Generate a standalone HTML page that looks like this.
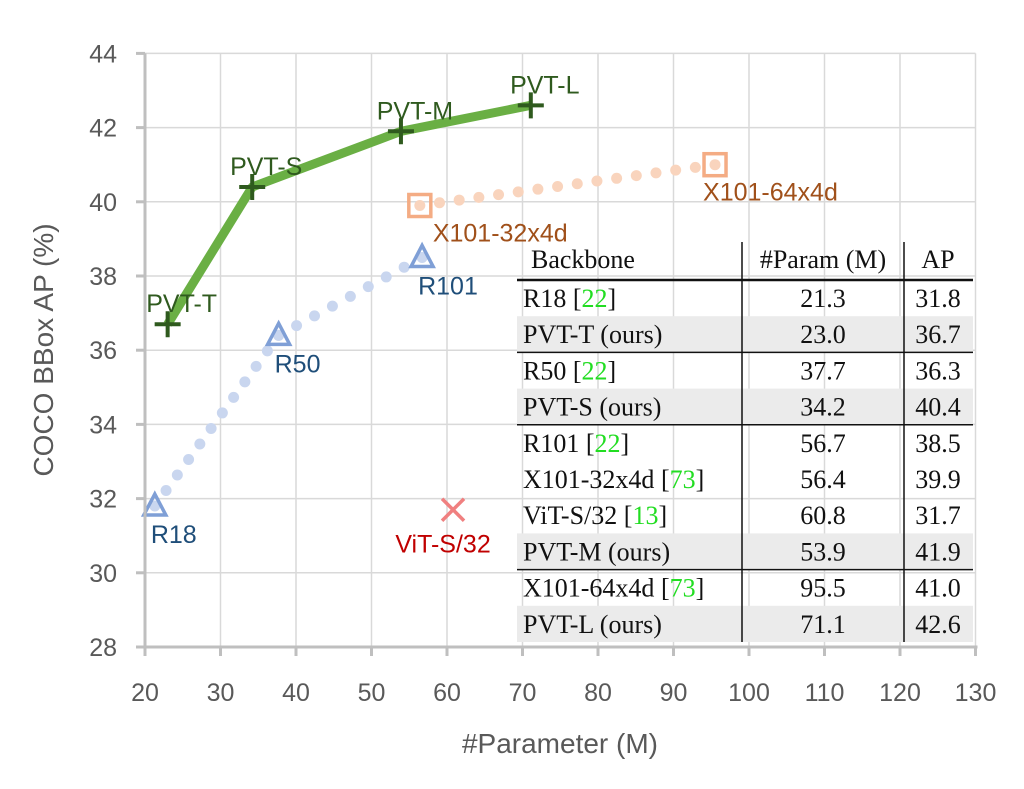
<!DOCTYPE html>
<html><head><meta charset="utf-8"><style>
body{margin:0;background:#fff;width:1024px;height:784px;overflow:hidden}
svg text{font-family:"Liberation Sans","DejaVu Sans",sans-serif}
.tb{font-family:"Liberation Serif",serif;font-size:26px;fill:#111}
</style></head><body>
<svg id="c" width="1024" height="784" xmlns="http://www.w3.org/2000/svg">
<g id="grid"></g><g id="table"></g><g id="series"></g><g id="axes"></g>
</svg>
<script>
const xTicks=[20,30,40,50,60,70,80,90,100,110,120,130];
const yTicks=[28,30,32,34,36,38,40,42,44];
const pvtNames=["PVT-T","PVT-S","PVT-M","PVT-L"];
const pvtX=[23.0,34.2,53.9,71.1];
const pvtY=[36.7,40.4,41.9,42.6];
const resNames=["R18","R50","R101"];
const resX=[21.3,37.7,56.7];
const resY=[31.8,36.4,38.5];
const xNames=["X101-32x4d","X101-64x4d"];
const xX=[56.4,95.5];
const xY=[39.9,41.0];
const vitX=[60.8];
const vitY=[31.7];
const tblBackbone=["R18 ","PVT-T (ours)","R50 ","PVT-S (ours)","R101 ","X101-32x4d ","ViT-S/32 ","PVT-M (ours)","X101-64x4d ","PVT-L (ours)"];
const tblRef=["22","","22","","22","73","13","","73",""];
const tblParam=["21.3","23.0","37.7","34.2","56.7","56.4","60.8","53.9","95.5","71.1"];
const tblAP=["31.8","36.7","36.3","40.4","38.5","39.9","31.7","41.9","41.0","42.6"];
const shaded=[0,1,0,1,0,0,0,1,0,1];

const NS="http://www.w3.org/2000/svg";
const X=v=>145+(v-20)*7.55, Y=v=>647-(v-28)*37.1;
function mk(t,a,p){const e=document.createElementNS(NS,t);for(const k in a)e.setAttribute(k,a[k]);p.appendChild(e);return e;}
const G=document.getElementById('grid'),A=document.getElementById('axes'),S=document.getElementById('series'),T=document.getElementById('table');
xTicks.forEach(v=>{if(v>20){const l=mk('line',{x1:X(v),x2:X(v),y1:Y(44),y2:Y(28),stroke:'#d9d9d9','stroke-width':1.5},G);}
 mk('line',{x1:X(v),x2:X(v),y1:647,y2:656,stroke:'#bfbfbf','stroke-width':3},A);
 const t=mk('text',{x:X(v),y:701,'text-anchor':'middle','font-size':25,fill:'#595959'},A);t.textContent=v;
 });
yTicks.forEach(v=>{if(v>28){const l=mk('line',{x1:145,x2:X(130),y1:Y(v),y2:Y(v),stroke:'#d9d9d9','stroke-width':1.5},G);}
 mk('line',{x1:136,x2:145,y1:Y(v),y2:Y(v),stroke:'#bfbfbf','stroke-width':3},A);
 const t=mk('text',{x:117,y:Y(v)+9,'text-anchor':'end','font-size':25,fill:'#595959'},A);t.textContent=v;
 });
mk('line',{x1:145,x2:145,y1:Y(44),y2:648,stroke:'#bfbfbf','stroke-width':3},A);
mk('line',{x1:144,x2:X(130)+2,y1:647,y2:647,stroke:'#bfbfbf','stroke-width':3},A);
let t=mk('text',{x:560,y:753,'text-anchor':'middle','font-size':28,fill:'#595959'},A);t.textContent='#Parameter (M)';

t=mk('text',{x:53,y:350,'text-anchor':'middle','font-size':28,fill:'#595959',transform:'rotate(-90 53 350)'},A);t.textContent='COCO BBox AP (%)';


// table
const tx0=517,tx1=973,c1=742,c2=904,hy=280,rh=36.2;
shaded.forEach((s,i)=>{if(s){const r=mk('rect',{x:tx0,y:hy+i*rh,width:tx1-tx0,height:rh,fill:'#ebebeb'},T);}});
mk('line',{x1:c1,x2:c1,y1:242,y2:642,stroke:'#111','stroke-width':1.5},T);
mk('line',{x1:c2,x2:c2,y1:242,y2:642,stroke:'#111','stroke-width':1.5},T);
mk('line',{x1:tx0,x2:tx1,y1:hy,y2:hy,stroke:'#111','stroke-width':2.5},T);
[2,4,8].forEach(i=>mk('line',{x1:tx0,x2:tx1,y1:hy+i*rh,y2:hy+i*rh,stroke:'#111','stroke-width':1.5},T));
[["Backbone",531,'start'],["#Param (M)",823,'middle'],["AP",938,'middle']].forEach(h=>{const e=mk('text',{x:h[1],y:268,'text-anchor':h[2],class:'tb'},T);e.textContent=h[0];});
tblBackbone.forEach((n,i)=>{const y=hy+i*rh+27;
 const e=mk('text',{x:523,y:y,class:'tb'},T);
 e.appendChild(document.createTextNode(n));
 if(tblRef[i]){e.appendChild(document.createTextNode('['));const s=mk('tspan',{fill:'#22dd22'},e);s.textContent=tblRef[i];e.appendChild(document.createTextNode(']'));}
 let p=mk('text',{x:823,y:y,'text-anchor':'middle',class:'tb'},T);p.textContent=tblParam[i];
 p=mk('text',{x:938,y:y,'text-anchor':'middle',class:'tb'},T);p.textContent=tblAP[i];});

// series
function dotted(xs,ys,col){for(let i=0;i<xs.length-1;i++){const a=[X(xs[i]),Y(ys[i])],b=[X(xs[i+1]),Y(ys[i+1])];const L=Math.hypot(b[0]-a[0],b[1]-a[1]);const n=Math.round(L/20);
 for(let k=0;k<=n;k++){const c=mk('circle',{cx:a[0]+(b[0]-a[0])*k/n,cy:a[1]+(b[1]-a[1])*k/n,r:5.5,fill:col},S);}}}
dotted(resX,resY,'#c9d6ef');dotted(xX,xY,'#f9d4bd');
const pl=mk('polyline',{points:pvtX.map((v,i)=>X(v)+','+Y(pvtY[i])).join(' '),fill:'none',stroke:'#6aaf44','stroke-width':9,'stroke-linejoin':'round'},S);

function lbl(x,y,s,col,anchor,name){const e=mk('text',{x:x,y:y,'font-size':25,fill:col,'text-anchor':anchor||'start'},S);e.textContent=s;}
pvtX.forEach((v,i)=>{const x=X(v),y=Y(pvtY[i]);const p=mk('path',{d:`M${x-13} ${y}H${x+13}M${x} ${y-13}V${y+13}`,stroke:'#2f5a1e','stroke-width':4},S);
 
 lbl(x+14,y-12,pvtNames[i],'#2f5a1e','middle','pvt-label');});
resX.forEach((v,i)=>{const x=X(v),y=Y(resY[i]);const p=mk('path',{d:`M${x} ${y-12}L${x+11} ${y+9}H${x-11}Z`,fill:'none',stroke:'#7f9fd6','stroke-width':3.5},S);
 
 lbl(x-4,y+37,resNames[i],'#1f4e79','start','resnet-label');});
xX.forEach((v,i)=>{const x=X(v),y=Y(xY[i]);const r=mk('rect',{x:x-11,y:y-11,width:22,height:22,fill:'none',stroke:'#f4ac84','stroke-width':3.5},S);
 
 lbl(x+i*-25+13,y+36,xNames[i],'#a0501a','start','resnext-label');});
vitX.forEach((v,i)=>{const x=X(v),y=Y(vitY[i]);const p=mk('path',{d:`M${x-11} ${y-11}L${x+11} ${y+11}M${x+11} ${y-11}L${x-11} ${y+11}`,stroke:'#f08080','stroke-width':3.5},S);
 
 lbl(x-10,y+43,'ViT-S/32','#c00000','middle','vit-label');});
</script>
</body></html>
